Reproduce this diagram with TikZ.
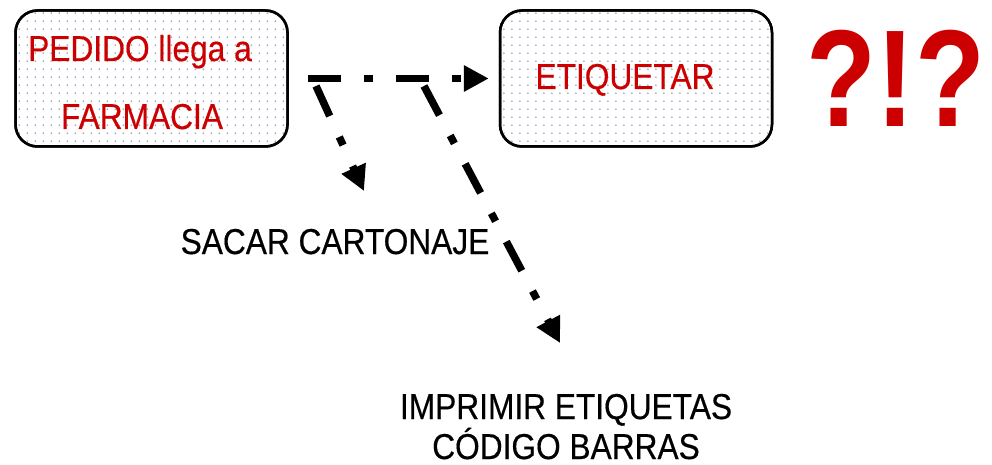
\documentclass[tikz,border=0pt]{standalone}
\usepackage{fontspec}
\setmainfont{Liberation Sans}[FakeStretch=0.88, FakeBold=0.4]
\newfontfamily\qfont{Liberation Sans}[FakeStretch=1.0]
\usetikzlibrary{arrows.meta,calc}
\definecolor{myred}{HTML}{CC0000}
\definecolor{dotcol}{HTML}{A3AFC4}
\tikzset{
  box/.style={draw=black, line width=2.5pt, rounded corners=22pt, minimum width=272pt, minimum height=136pt, inner sep=0pt},
  redtxt/.style={text=myred, font=\fontsize{36}{36}\selectfont, anchor=base, inner sep=0pt},
  blktxt/.style={text=black, font=\fontsize{36}{36}\selectfont, anchor=base, inner sep=0pt},
  flow/.style={line width=7.5pt, dash pattern=on 33pt off 23pt on 9pt off 23pt, -{Triangle[length=25pt,width=25pt]}}
}
\newcommand{\myboxdots}[1]{%
  \begin{scope}
    \clip[rounded corners=22pt] (#1.south west) rectangle (#1.north east);
    \foreach \i in {0,...,34} {
      \foreach \j in {0,...,17} {
        \fill[dotcol] ($(#1.north west)+(\i*8+5,\j*8+4)$) circle (1.0pt);
      }
    }
  \end{scope}}
\begin{document}
\begin{tikzpicture}[x=1pt,y=-1pt]
\useasboundingbox (0,0) rectangle (992,465);
\node[box] (pedido) at (151.5,78.5) {};
\node[box] (etiq) at (636,78.5) {};
\myboxdots{pedido}
\myboxdots{etiq}
\node[box] at (pedido) {};
\node[box] at (etiq) {};
\node[redtxt] (l1) at (140,61) {PEDIDO llega a};
\node[redtxt] (l2) at (142,129) {FARMACIA};
\node[redtxt] (l3) at (625,89) {ETIQUETAR};
\node[text=myred, font=\qfont\fontsize{138}{138}\selectfont\bfseries, anchor=base, inner sep=0pt] (q) at (896,127) {\scalebox{0.83}[1]{?!?}};
\node[blktxt] (sacar) at (335,254) {SACAR CARTONAJE};
\node[blktxt] (impr1) at (566,419) {IMPRIMIR ETIQUETAS};
\node[blktxt] (impr2) at (566,459) {CÓDIGO BARRAS};
\coordinate (s1) at (316,86);
\coordinate (t1) at (364,191);
\coordinate (s2) at (424,86);
\coordinate (t2) at (560,343);
\draw[flow, shorten <=19pt, shorten >=10pt] (pedido.east) -- (etiq.west);
\draw[flow] (s1) -- (t1);
\draw[flow] (s2) -- (t2);
\end{tikzpicture}
\end{document}
